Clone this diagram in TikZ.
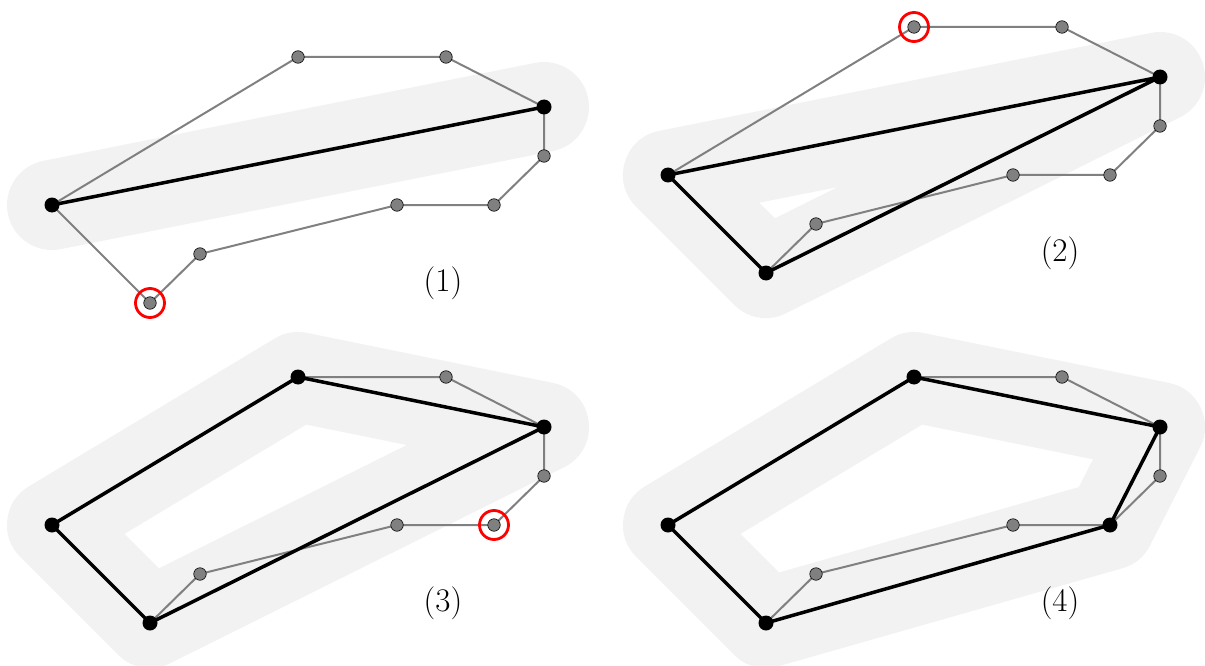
\documentclass[tikz,border=0pt]{standalone}
\definecolor{bufgray}{HTML}{F2F2F2}
\definecolor{polygray}{HTML}{808080}
\tikzset{
  buf/.style={draw=bufgray, line width=90pt, line join=round, line cap=round},
  graypoly/.style={draw=polygray, line width=2pt, line join=round},
  blk/.style={draw=black, line width=3.5pt, line join=round, line cap=round},
  gdot/.style={circle, fill=polygray, draw=black, line width=0.6pt, minimum size=12.5pt, inner sep=0pt},
  bdot/.style={circle, fill=black, minimum size=15pt, inner sep=0pt},
  redc/.style={circle, draw=red, line width=2.8pt, minimum size=29pt, inner sep=0pt},
  lab/.style={font=\fontsize{33}{40}\selectfont, inner sep=0pt}
}
\newcommand\basepts[1]{%
  \coordinate (#1A) at (52,205);
  \coordinate (#1B) at (298,57);
  \coordinate (#1C) at (446,57);
  \coordinate (#1D) at (544,107);
  \coordinate (#1E) at (544,156);
  \coordinate (#1F) at (494,205);
  \coordinate (#1G) at (397,205);
  \coordinate (#1H) at (200,254);
  \coordinate (#1I) at (150,303);
}
\newcommand\graypolygon[1]{%
  \draw[graypoly] (#1A) -- (#1B) -- (#1C) -- (#1D) -- (#1E) -- (#1F) -- (#1G) -- (#1H) -- (#1I) -- cycle;
}
\begin{document}
\begin{tikzpicture}[x=1pt,y=-1pt]
\useasboundingbox (0,0) rectangle (1205,666);
% Panel 1
\begin{scope}
  \basepts{a}
  \draw[buf] (aA) -- (aD);
  \graypolygon{a}
  \draw[blk] (aA) -- (aD);
  \node[bdot] (na1) at (aA) {};
  \node[gdot] (na2) at (aB) {};
  \node[gdot] (na3) at (aC) {};
  \node[bdot] (na4) at (aD) {};
  \node[gdot] (na5) at (aE) {};
  \node[gdot] (na6) at (aF) {};
  \node[gdot] (na7) at (aG) {};
  \node[gdot] (na8) at (aH) {};
  \node[gdot] (na9) at (aI) {};
  \node[redc] (ra) at (aI) {};
  \node[lab] (la) at (443,283) {(1)};
\end{scope}
% Panel 2
\begin{scope}[shift={(616,-30)}]
  \basepts{b}
  \draw[buf] (bA) -- (bD) -- (bI) -- cycle;
  \graypolygon{b}
  \draw[blk] (bA) -- (bD) -- (bI) -- cycle;
  \node[bdot] (nb1) at (bA) {};
  \node[gdot] (nb2) at (bB) {};
  \node[gdot] (nb3) at (bC) {};
  \node[bdot] (nb4) at (bD) {};
  \node[gdot] (nb5) at (bE) {};
  \node[gdot] (nb6) at (bF) {};
  \node[gdot] (nb7) at (bG) {};
  \node[gdot] (nb8) at (bH) {};
  \node[bdot] (nb9) at (bI) {};
  \node[redc] (rb) at (bB) {};
  \node[lab] (lb) at (444,283) {(2)};
\end{scope}
% Panel 3
\begin{scope}[shift={(0,320)}]
  \basepts{c}
  \draw[buf] (cA) -- (cB) -- (cD) -- (cI) -- cycle;
  \graypolygon{c}
  \draw[blk] (cA) -- (cB) -- (cD) -- (cI) -- cycle;
  \node[bdot] (nc1) at (cA) {};
  \node[bdot] (nc2) at (cB) {};
  \node[gdot] (nc3) at (cC) {};
  \node[bdot] (nc4) at (cD) {};
  \node[gdot] (nc5) at (cE) {};
  \node[gdot] (nc6) at (cF) {};
  \node[gdot] (nc7) at (cG) {};
  \node[gdot] (nc8) at (cH) {};
  \node[bdot] (nc9) at (cI) {};
  \node[redc] (rc) at (cF) {};
  \node[lab] (lc) at (443,283) {(3)};
\end{scope}
% Panel 4
\begin{scope}[shift={(616,320)}]
  \basepts{d}
  \draw[buf] (dA) -- (dB) -- (dD) -- (dF) -- (dI) -- cycle;
  \graypolygon{d}
  \draw[blk] (dA) -- (dB) -- (dD) -- (dF) -- (dI) -- cycle;
  \node[bdot] (nd1) at (dA) {};
  \node[bdot] (nd2) at (dB) {};
  \node[gdot] (nd3) at (dC) {};
  \node[bdot] (nd4) at (dD) {};
  \node[gdot] (nd5) at (dE) {};
  \node[bdot] (nd6) at (dF) {};
  \node[gdot] (nd7) at (dG) {};
  \node[gdot] (nd8) at (dH) {};
  \node[bdot] (nd9) at (dI) {};
  \node[lab] (ld) at (444,283) {(4)};
\end{scope}
\end{tikzpicture}
\end{document}
